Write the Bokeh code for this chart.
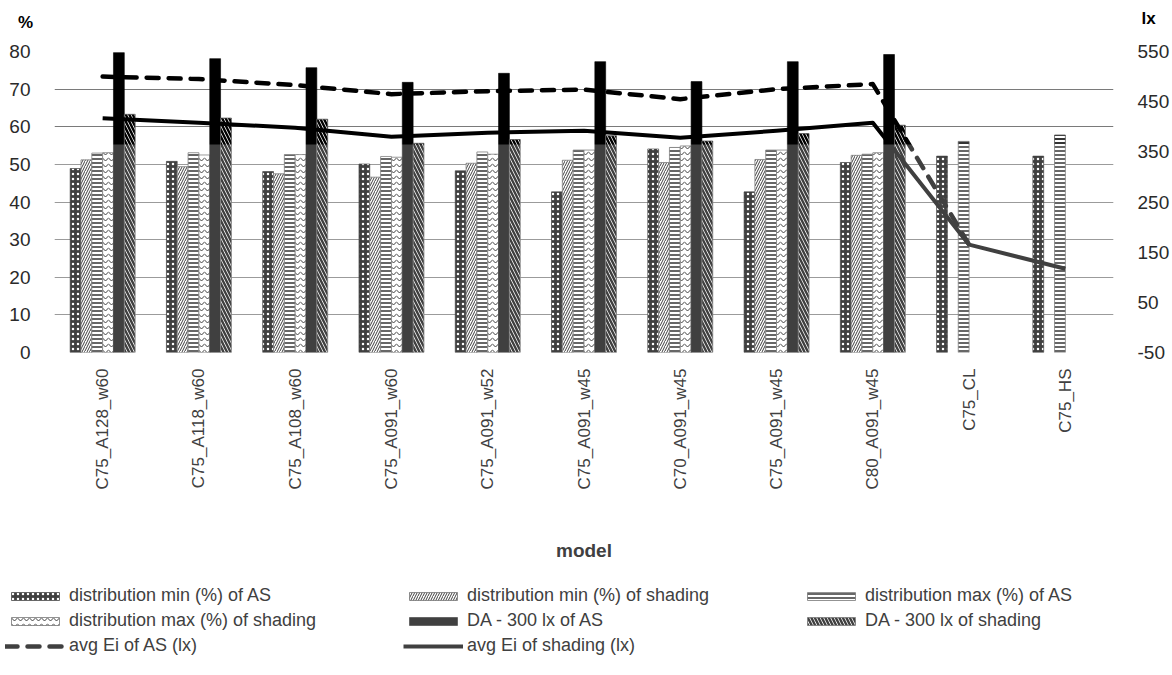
import math
from bokeh.plotting import figure
from bokeh.layouts import column
from bokeh.models import (ColumnDataSource, Range1d, LinearAxis, FixedTicker,
                          Legend, LegendItem, Label, BoxAnnotation)
from bokeh.transform import dodge
from bokeh.embed import file_html
from bokeh.resources import INLINE

nan = float("nan")

models = ["C75_A128_w60", "C75_A118_w60", "C75_A108_w60", "C75_A091_w60", "C75_A091_w52",
          "C75_A091_w45", "C70_A091_w45", "C75_A091_w45", "C80_A091_w45", "C75_CL", "C75_HS"]

dist_min_as = [48.9, 50.8, 48.1, 50.1, 48.3, 42.7, 54.1, 42.7, 50.5, 52.2, 52.2]
dist_min_sh = [51.2, 49.4, 47.5, 46.6, 50.3, 51.1, 50.5, 51.3, 52.4, nan, nan]
dist_max_as = [53.0, 53.1, 52.6, 52.1, 53.3, 53.8, 54.5, 53.8, 52.7, 56.1, 57.8]
dist_max_sh = [53.1, 52.5, 52.6, 51.9, 52.7, 53.8, 54.9, 53.8, 53.1, nan, nan]
da_as = [79.7, 78.1, 75.7, 71.8, 74.2, 77.3, 72.0, 77.3, 79.2, nan, nan]
da_sh = [63.3, 62.3, 62.0, 55.6, 56.6, 57.6, 56.2, 58.2, 60.4, nan, nan]
avg_ei_as = [500, 495, 483, 465, 471, 474, 455, 475, 485, 165, nan]
avg_ei_sh = [417, 408, 398, 380, 388, 392, 378, 392, 408, 165, 117]

left_ticks = [0, 10, 20, 30, 40, 50, 60, 70, 80]
right_ticks = [-50, 50, 150, 250, 350, 450, 550]

# the model names repeat, so the x axis is positional with the names as tick labels
pos = list(range(len(models)))

src = ColumnDataSource(dict(pos=pos, min_as=dist_min_as, min_sh=dist_min_sh,
                            max_as=dist_max_as, max_sh=dist_max_sh, da_as=da_as, da_sh=da_sh,
                            ei_as=avg_ei_as, ei_sh=avg_ei_sh))

FONT = "Liberation Sans"
GREY_TEXT = "#404040"
W = 1172
TOP_H, MAIN_H, KEY_H = 36, 539, 100

bw = 0.1125
offs = [-2.5 * bw, -1.5 * bw, -0.5 * bw, 0.5 * bw, 1.5 * bw, 2.5 * bw]


def unalign(fig):
    # keep each strip's frame independent of its neighbours in the column
    if "frame_align" in fig.properties():
        fig.frame_align = False


def draw_series(fig, source, ink, edge):
    r = {}
    r["min_as"] = fig.vbar(x=dodge("pos", offs[0]), top="min_as", width=bw, source=source,
                           fill_color=ink, line_color=ink, line_width=0.6,
                           hatch_pattern="dot", hatch_color="white", hatch_scale=5,
                           hatch_weight=1.6)
    r["min_sh"] = fig.vbar(x=dodge("pos", offs[1]), top="min_sh", width=bw, source=source,
                           fill_color="white", line_color=edge, line_width=0.8,
                           hatch_pattern="right_diagonal_line", hatch_color=ink, hatch_scale=5,
                           hatch_weight=1)
    r["max_as"] = fig.vbar(x=dodge("pos", offs[2]), top="max_as", width=bw, source=source,
                           fill_color="white", line_color=edge, line_width=0.8,
                           hatch_pattern="horizontal_line", hatch_color=ink, hatch_scale=4,
                           hatch_weight=1.6)
    r["max_sh"] = fig.vbar(x=dodge("pos", offs[3]), top="max_sh", width=bw, source=source,
                           fill_color="white", line_color=edge, line_width=0.8,
                           hatch_pattern="horizontal_wave", hatch_color=ink, hatch_scale=6,
                           hatch_weight=1)
    r["da_as"] = fig.vbar(x=dodge("pos", offs[4]), top="da_as", width=bw, source=source,
                          fill_color=ink, line_color=ink, line_width=0.6)
    r["da_sh"] = fig.vbar(x=dodge("pos", offs[5]), top="da_sh", width=bw, source=source,
                          fill_color="white", line_color=edge, line_width=0.8,
                          hatch_pattern="left_diagonal_line", hatch_color=ink, hatch_scale=7,
                          hatch_weight=2.4)
    r["ei_as"] = fig.line(x="pos", y="ei_as", source=source, y_range_name="lx", line_color=ink,
                          line_width=4.5, line_dash="12 10", line_cap="round", line_join="round")
    r["ei_sh"] = fig.line(x="pos", y="ei_sh", source=source, y_range_name="lx", line_color=ink,
                          line_width=4, line_join="round")
    return r


def bare_figure(height, x_range, y_range):
    f = figure(width=W, height=height, x_range=x_range, y_range=y_range,
               x_axis_type=None, y_axis_type=None, output_backend="svg", toolbar_location=None,
               min_border=0)
    f.outline_line_color = None
    f.grid.grid_line_color = None
    unalign(f)
    return f


# --- strip with the unit captions of the two value axes
top = bare_figure(TOP_H, Range1d(0, W), Range1d(TOP_H, 0))
top.add_layout(Label(x=25, y=22, text="%", text_font=FONT, text_font_size="17px",
                     text_font_style="bold", text_align="center", text_baseline="middle",
                     text_color="black"))
top.add_layout(Label(x=1148, y=18, text="lx", text_font=FONT, text_font_size="17px",
                     text_font_style="bold", text_align="center", text_baseline="middle",
                     text_color="black"))

# --- main chart
p = figure(width=W, height=MAIN_H, x_range=Range1d(-0.5, len(models) - 0.5),
           y_range=Range1d(0, 80), output_backend="svg", toolbar_location=None,
           min_border_left=54, min_border_right=59, min_border_top=15, min_border_bottom=223)
unalign(p)
p.extra_y_ranges = {"lx": Range1d(-50, 550)}
p.outline_line_color = None
p.background_fill_color = "white"

draw_series(p, src, "black", "#555555")

p.yaxis.ticker = FixedTicker(ticks=left_ticks)
p.ygrid.ticker = FixedTicker(ticks=left_ticks)
p.ygrid.grid_line_color = "#7a7a7a"
p.ygrid.grid_line_width = 1
p.xgrid.grid_line_color = None

p.xaxis.ticker = FixedTicker(ticks=pos)
p.xaxis.major_label_overrides = {i: m for i, m in zip(pos, models)}

for ax in (p.yaxis[0], p.xaxis[0]):
    ax.axis_line_color = None
    ax.major_tick_line_color = None
    ax.minor_tick_line_color = None
    ax.major_label_text_font = FONT

p.yaxis.major_label_text_font_size = "19px"
p.yaxis.major_label_text_color = "#2a2a2a"
p.yaxis.major_label_standoff = 18

ax_r = LinearAxis(y_range_name="lx", ticker=FixedTicker(ticks=right_ticks))
ax_r.major_label_overrides = {t: str(t) for t in right_ticks}
ax_r.axis_line_color = None
ax_r.major_tick_line_color = None
ax_r.minor_tick_line_color = None
ax_r.major_label_text_font = FONT
ax_r.major_label_text_font_size = "19px"
ax_r.major_label_text_color = "#2a2a2a"
ax_r.major_label_standoff = 18
p.add_layout(ax_r, "right")

p.xaxis.major_label_orientation = math.pi / 2
p.xaxis.major_label_text_font_size = "17px"
p.xaxis.major_label_text_color = GREY_TEXT
p.xaxis.major_label_standoff = 10
p.xaxis.axis_label = "model"
p.xaxis.axis_label_text_font = FONT
p.xaxis.axis_label_text_font_style = "bold"
p.xaxis.axis_label_text_font_size = "19px"
p.xaxis.axis_label_text_color = GREY_TEXT
p.xaxis.axis_label_standoff = 48

# pale wash over the lower part of the plot area
p.add_layout(BoxAnnotation(left=0, right=W, top=144 - TOP_H, bottom=MAIN_H, left_units="canvas",
                           right_units="canvas", top_units="canvas", bottom_units="canvas",
                           fill_color="white", fill_alpha=0.25, line_color=None, level="overlay"))

# --- key strip: same series, ranges set away from the data so only the swatches show
key = bare_figure(KEY_H, Range1d(1000, 1000 + W), Range1d(1000, 1000 + KEY_H))
key.extra_y_ranges = {"lx": Range1d(5000, 5000 + KEY_H)}
key_r = draw_series(key, src, "#404040", "#777777")

order = [("distribution min (%) of AS", "min_as"),
         ("distribution min (%) of shading", "min_sh"),
         ("distribution max (%) of AS", "max_as"),
         ("distribution max (%) of shading", "max_sh"),
         ("DA - 300 lx of AS", "da_as"),
         ("DA - 300 lx of shading", "da_sh"),
         ("avg Ei of AS (lx)", "ei_as"),
         ("avg Ei of shading (lx)", "ei_sh")]
leg = Legend(items=[LegendItem(label=t, renderers=[key_r[k]]) for t, k in order],
             orientation="horizontal", ncols=3, location=(5, 19),
             padding=0, margin=0, spacing=4, glyph_width=60, glyph_height=10,
             label_width=330, label_height=20, label_standoff=4,
             label_text_font=FONT, label_text_font_size="18px", label_text_color=GREY_TEXT,
             background_fill_alpha=0, border_line_color=None)
key.add_layout(leg)

layout = column(top, p, key, spacing=0)
open("out.html", "w").write(file_html(layout, INLINE))
